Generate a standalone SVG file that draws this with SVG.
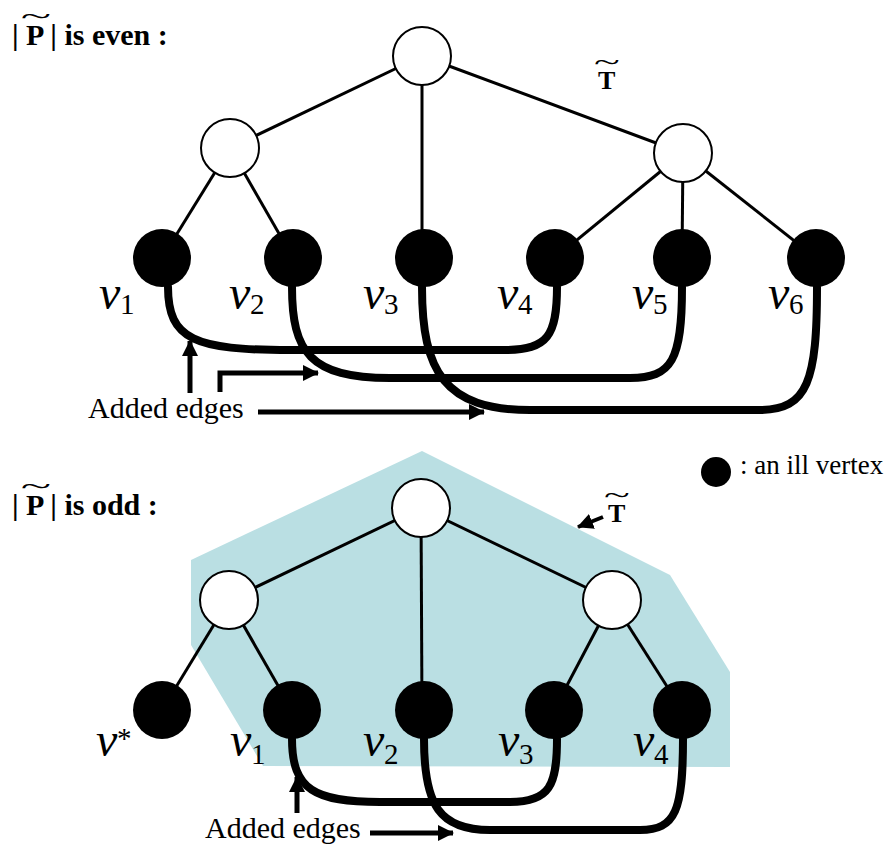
<svg xmlns="http://www.w3.org/2000/svg" width="891" height="846" viewBox="0 0 891 846">
<style>
.t{stroke:#000;stroke-width:3;fill:none}
.ae{stroke:#000;stroke-width:8;fill:none;stroke-linecap:round}
.ar{stroke:#000;stroke-width:5;fill:none;marker-end:url(#ah)}
.wn{fill:#fff;stroke:#000;stroke-width:2}
.bn{fill:#000}
.lv{font-family:"Liberation Serif","DejaVu Serif",serif;font-style:italic;font-size:48px}
.ls{font-family:"Liberation Serif","DejaVu Serif",serif;font-size:29px}
.tt{font-family:"Liberation Serif","DejaVu Serif",serif;font-weight:bold;font-size:30px}
.tk{font-family:"Liberation Serif","DejaVu Serif",serif;font-weight:bold;font-size:26px}
.tl{font-family:"Liberation Serif","DejaVu Serif",serif;font-size:28px}
.ad{font-family:"Liberation Serif","DejaVu Serif",serif;font-size:30px}
.lg{font-family:"Liberation Serif","DejaVu Serif",serif;font-size:27px}
</style>
<defs>
<marker id="ah" markerUnits="userSpaceOnUse" markerWidth="17" markerHeight="17" refX="15" refY="8" orient="auto">
<path d="M0,0 L16,8 L0,16 z" fill="#000"/>
</marker>
</defs>
<rect width="891" height="846" fill="#fff"/>
<polygon id="Ttilde-region" points="191,560 422,451 670,575 730,672 730,767 263,766 191,645" fill="#badfe3"/>

<g id="title-even">
<text class="tt" x="12" y="45">| P | is even :</text>
<text class="tl" transform="translate(36,25) scale(2,1)" text-anchor="middle">~</text>
</g>
<g id="title-odd">
<text class="tt" x="12" y="515">| P | is odd :</text>
<text class="tl" transform="translate(36,495) scale(2,1)" text-anchor="middle">~</text>
</g>
<g id="label-T-top">
<text class="tk" x="598" y="89">T</text>
<text class="tl" transform="translate(607,71) scale(1.7,1)" text-anchor="middle">~</text>
</g>
<g id="label-T-bottom">
<text class="tk" x="608" y="522">T</text>
<text class="tl" transform="translate(617,504) scale(1.7,1)" text-anchor="middle">~</text>
</g>
<g id="legend">
<circle cx="716" cy="472" r="15" class="bn"/>
<text class="lg" x="740" y="474">: an ill vertex</text>
</g>

<g id="connectors">
<line class="t" x1="422" y1="56" x2="230" y2="148"/>
<line class="t" x1="422" y1="56" x2="422" y2="258"/>
<line class="t" x1="422" y1="56" x2="683" y2="153"/>
<line class="t" x1="230" y1="148" x2="162" y2="258"/>
<line class="t" x1="230" y1="148" x2="293" y2="258"/>
<line class="t" x1="683" y1="153" x2="555" y2="258"/>
<line class="t" x1="683" y1="153" x2="682" y2="258"/>
<line class="t" x1="683" y1="153" x2="816" y2="258"/>
<path class="ae" d="M168,287 C168,340 195,350 290,350 L505,350 C548,350 557,335 557,287"/>
<path class="ae" d="M292,287 C292,352 310,378 390,378 L630,378 C672,378 682,360 682,287"/>
<path class="ae" d="M422,287 C422,372 445,410 530,410 L760,410 C808,410 817,380 817,287"/>

<line class="t" x1="421" y1="508" x2="229" y2="600"/>
<line class="t" x1="421" y1="508" x2="422" y2="710"/>
<line class="t" x1="421" y1="508" x2="612" y2="600"/>
<line class="t" x1="229" y1="600" x2="162" y2="710"/>
<line class="t" x1="229" y1="600" x2="292" y2="710"/>
<line class="t" x1="612" y1="600" x2="554" y2="710"/>
<line class="t" x1="612" y1="600" x2="682" y2="710"/>
<path class="ae" d="M292,739 C292,790 315,802 380,802 L510,802 C550,802 557,785 557,739"/>
<path class="ae" d="M424,739 C424,806 440,830 490,830 L640,830 C676,830 683,810 683,739"/>

<line class="ar" x1="190" y1="393" x2="190" y2="341"/>
<polyline class="ar" points="220,392 220,373 318,373"/>
<line class="ar" x1="258" y1="412" x2="484" y2="412"/>
<line class="ar" x1="297" y1="813" x2="297" y2="777"/>
<line class="ar" x1="370" y1="833" x2="453" y2="833"/>
<line class="ar" x1="603" y1="517" x2="578" y2="527" style="stroke-width:4"/>
</g>

<g id="top-root"><circle class="wn" cx="422" cy="56" r="29"/></g>
<g id="top-left"><circle class="wn" cx="230" cy="148" r="29"/></g>
<g id="top-right"><circle class="wn" cx="683" cy="153" r="29"/></g>
<g id="top-v1"><circle class="bn" cx="162" cy="258" r="29"/><text class="lv" x="99" y="309">v</text><text class="ls" x="120" y="314">1</text></g>
<g id="top-v2"><circle class="bn" cx="293" cy="258" r="29"/><text class="lv" x="229" y="309">v</text><text class="ls" x="250" y="314">2</text></g>
<g id="top-v3"><circle class="bn" cx="424" cy="258" r="29"/><text class="lv" x="363" y="309">v</text><text class="ls" x="384" y="314">3</text></g>
<g id="top-v4"><circle class="bn" cx="555" cy="258" r="29"/><text class="lv" x="497" y="309">v</text><text class="ls" x="518" y="314">4</text></g>
<g id="top-v5"><circle class="bn" cx="682" cy="258" r="29"/><text class="lv" x="632" y="309">v</text><text class="ls" x="653" y="314">5</text></g>
<g id="top-v6"><circle class="bn" cx="816" cy="258" r="29"/><text class="lv" x="768" y="309">v</text><text class="ls" x="789" y="314">6</text></g>
<g id="top-label"><text class="ad" x="88" y="418">Added edges</text></g>

<g id="bot-root"><circle class="wn" cx="421" cy="508" r="29"/></g>
<g id="bot-left"><circle class="wn" cx="229" cy="600" r="29"/></g>
<g id="bot-right"><circle class="wn" cx="612" cy="600" r="29"/></g>
<g id="bot-vstar"><circle class="bn" cx="162" cy="710" r="29"/><text class="lv" x="96" y="756">v</text><text class="ls" x="117" y="748">*</text></g>
<g id="bot-v1"><circle class="bn" cx="292" cy="710" r="29"/><text class="lv" x="230" y="756">v</text><text class="ls" x="251" y="764">1</text></g>
<g id="bot-v2"><circle class="bn" cx="424" cy="710" r="29"/><text class="lv" x="363" y="756">v</text><text class="ls" x="384" y="764">2</text></g>
<g id="bot-v3"><circle class="bn" cx="554" cy="710" r="29"/><text class="lv" x="498" y="756">v</text><text class="ls" x="519" y="764">3</text></g>
<g id="bot-v4"><circle class="bn" cx="682" cy="710" r="29"/><text class="lv" x="633" y="756">v</text><text class="ls" x="654" y="764">4</text></g>
<g id="bot-label"><text class="ad" x="205" y="838">Added edges</text></g>
</svg>
